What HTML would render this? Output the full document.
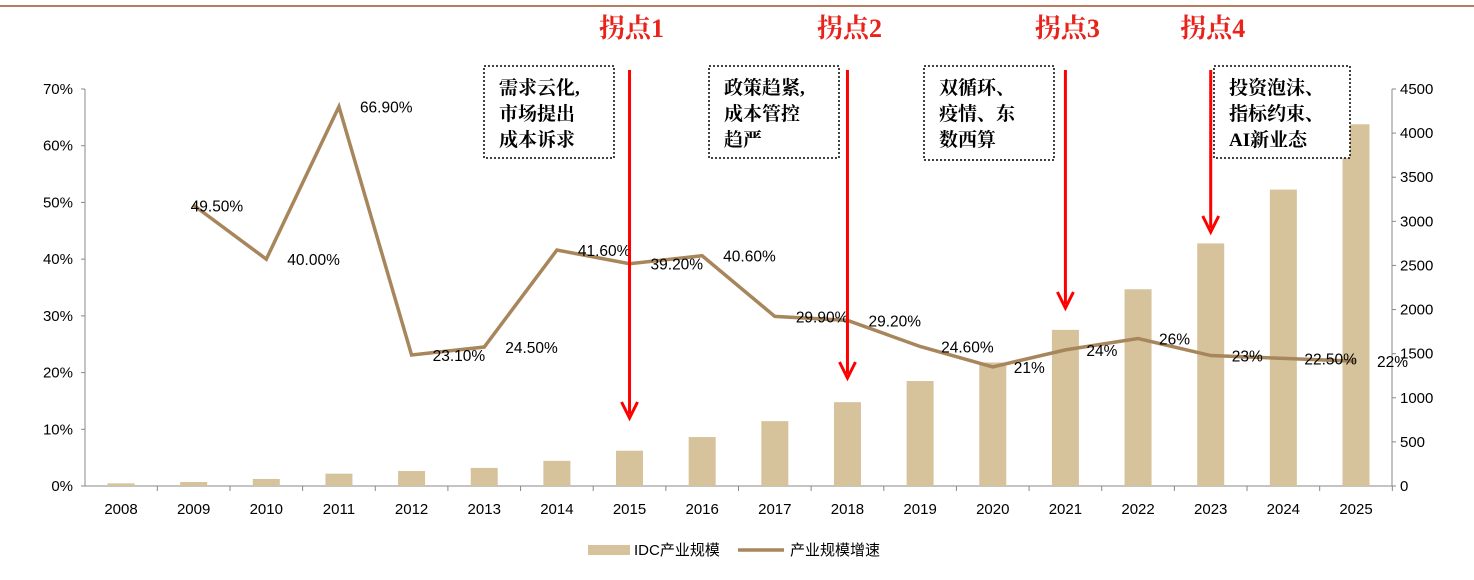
<!DOCTYPE html>
<html><head><meta charset="utf-8"><style>
body{margin:0;background:#fff;width:1474px;height:575px;overflow:hidden}
svg text{font-family:"Liberation Sans","Noto Sans CJK SC",sans-serif}
.ann{font-family:"Liberation Serif","Noto Serif CJK SC",serif;font-weight:bold}
</style></head><body>
<svg id="c" width="1474" height="575">
<line x1="0" y1="6" x2="1474" y2="6" stroke="#a0522d" stroke-width="1.5"/>
<g id="g"></g>
</svg>
<script>
const years=['2008','2009','2010','2011','2012','2013','2014','2015','2016','2017','2018','2019','2020','2021','2022','2023','2024','2025'];
const scale=[30,45,80,140,170,205,285,400,555,735,950,1190,1400,1770,2230,2750,3360,4100];
const growth=[null,49.5,40,66.9,23.1,24.5,41.6,39.2,40.6,29.9,29.2,24.6,21,24,26,23,22.5,22];
const growthLabels=['','49.50%','40.00%','66.90%','23.10%','24.50%','41.60%','39.20%','40.60%','29.90%','29.20%','24.60%','21%','24%','26%','23%','22.50%','22%'];
const leftTicks=[0,10,20,30,40,50,60,70];
const rightTicks=[0,500,1000,1500,2000,2500,3000,3500,4000,4500];
const points=[{y:'2015',t:'拐点1',lines:['需求云化,','市场提出','成本诉求']},{y:'2018',t:'拐点2',lines:['政策趋紧,','成本管控','趋严']},{y:'2021',t:'拐点3',lines:['双循环、','疫情、东','数西算']},{y:'2023',t:'拐点4',lines:['投资泡沫、','指标约束、','AI新业态']}];
const boxX=[484,709,924,1214],arrowEnd=[418,378,308,232];

const NS='http://www.w3.org/2000/svg',g=document.getElementById('g');
function mk(t,a,txt){const e=document.createElementNS(NS,t);for(const k in a)e.setAttribute(k,a[k]);if(txt!==undefined)e.textContent=txt;g.appendChild(e);return e;}
const x0=121,dx=(1356-121)/17,yB=486,yT=89;
const xs=i=>x0+i*dx, yl=v=>yB-(v/70)*(yB-yT), yr=v=>yB-(v/4500)*(yB-yT);
let e=mk('line',{x1:85,y1:yB,x2:1392,y2:yB,stroke:'#888'});

e=mk('line',{x1:85,y1:yT,x2:85,y2:yB,stroke:'#888'});

e=mk('line',{x1:1392,y1:yT,x2:1392,y2:yB,stroke:'#888'});

leftTicks.forEach(v=>{mk('line',{x1:81,x2:85,y1:yl(v),y2:yl(v),stroke:'#888'});
 e=mk('text',{x:73,y:yl(v)+5,'text-anchor':'end','font-size':15,fill:'#000'},v+'%');
 });
rightTicks.forEach(v=>{mk('line',{x1:1392,x2:1396,y1:yr(v),y2:yr(v),stroke:'#888'});
 e=mk('text',{x:1400,y:yr(v)+5,'font-size':15,fill:'#000'},v);
 });
years.forEach((y,i)=>{
 e=mk('rect',{x:xs(i)-13.5,y:yr(scale[i]),width:27,height:yB-yr(scale[i]),fill:'#d6c39b'});
 
 e=mk('text',{x:xs(i),y:514,'text-anchor':'middle','font-size':15,fill:'#000'},y);
 
 mk('line',{x1:xs(i)+dx/2,x2:xs(i)+dx/2,y1:yB,y2:yB+5,stroke:'#888'});
});
let d='';growth.forEach((v,i)=>{if(v!==null)d+=(d?'L':'M')+xs(i)+','+yl(v);});
e=mk('path',{d:d,fill:'none',stroke:'#a8865c','stroke-width':3.5});

growth.forEach((v,i)=>{if(v===null)return;
 const lx=i===1?xs(i)-3:xs(i)+21, ly=yl(v)+6;
 e=mk('text',{x:lx,y:ly,'font-size':15.5,fill:'#000'},growthLabels[i]);
 });
points.forEach((p,k)=>{const i=years.indexOf(p.y),x=xs(i);
 e=mk('text',{x:x+2,y:37,'text-anchor':'middle','font-size':26,fill:'#e8231b',class:'ann'},p.t);
 
 e=mk('line',{x1:x,y1:70,x2:x,y2:arrowEnd[k]-4,stroke:'#f00','stroke-width':3});
 
 mk('path',{d:`M${x-8},${arrowEnd[k]-16}L${x},${arrowEnd[k]}L${x+8},${arrowEnd[k]-16}`,fill:'none',stroke:'#f00','stroke-width':3});
 e=mk('rect',{x:boxX[k],y:66,width:k==3?136:130,height:k==2?94:92,fill:'#fff',stroke:'#000','stroke-dasharray':'2,2','stroke-width':1.5});
 
 p.lines.forEach((l,j)=>{e=mk('text',{x:boxX[k]+15,y:94+j*26,'font-size':19,fill:'#000',class:'ann'},l);
 });
});
e=mk('rect',{x:588,y:545,width:42,height:10,fill:'#d6c39b'});

e=mk('text',{x:634,y:555,'font-size':15,fill:'#000'},'IDC产业规模');

e=mk('line',{x1:738,x2:784,y1:550,y2:550,stroke:'#a8865c','stroke-width':3.5});

e=mk('text',{x:790,y:555,'font-size':15,fill:'#000'},'产业规模增速');

</script>
</body></html>
